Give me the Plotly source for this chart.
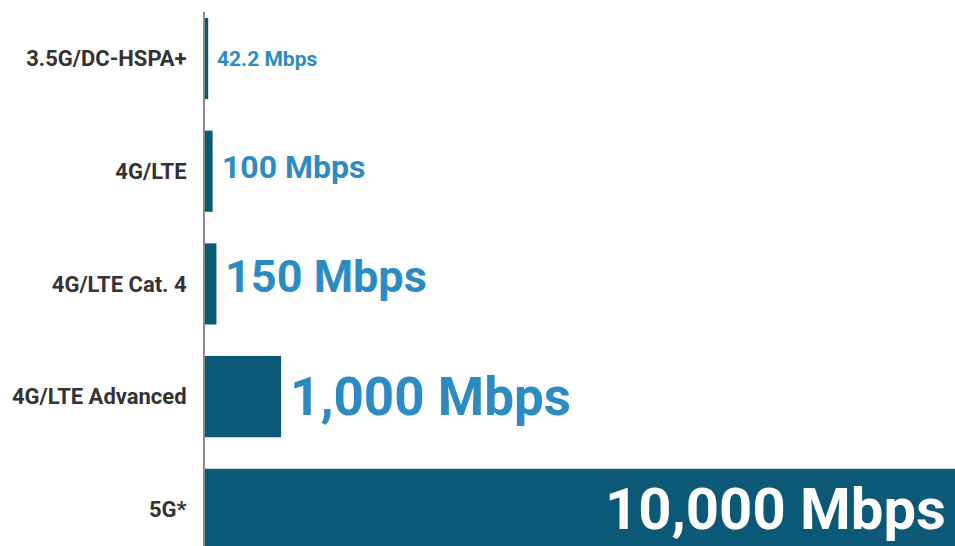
import plotly.graph_objects as go

# data
categories = ["3.5G/DC-HSPA+", "4G/LTE", "4G/LTE Cat. 4", "4G/LTE Advanced", "5G*"]
speeds = [42.2, 100, 150, 1000, 10000]
speed_labels = ["42.2 Mbps", "100 Mbps", "150 Mbps", "1,000 Mbps", "10,000 Mbps"]

# label sizes grow with the value; small nudges to sit like the original
label_font_sizes = [21, 32, 45, 53, 58]
label_yshift = [0, 4, 7, 0, 0]

bar_color = "#0b5877"
label_color = "#2d8bc4"
font_stack = "Roboto, sans-serif"

fig = go.Figure()
fig.add_trace(go.Bar(x=speeds,
                     y=categories,
                     orientation="h",
                     width=0.72,
                     marker=dict(color=bar_color, line=dict(width=0)),
                     hoverinfo="skip"))

annotations = []
for i, (cat, val, txt) in enumerate(zip(categories, speeds, speed_labels)):
    last = i == len(categories) - 1
    if last:
        # the 5G bar runs off the right edge, so its label hugs the edge
        pos = dict(x=1, xref="paper", xanchor="right", xshift=-7)
    else:
        pos = dict(x=val, xref="x", xanchor="left", xshift=7)
    annotations.append(dict(
        y=cat, yref="y",
        text="<b>%s</b>" % txt,
        showarrow=False,
        yanchor="middle",
        yshift=label_yshift[i],
        font=dict(family=font_stack,
                  size=label_font_sizes[i],
                  color="white" if last else label_color),
        **pos
    ))

fig.update_layout(
    width=955,
    height=546,
    margin=dict(l=205, r=0, t=12, b=0, autoexpand=False),
    paper_bgcolor="white",
    plot_bgcolor="white",
    showlegend=False,
    annotations=annotations,
    font=dict(family=font_stack, color="#333333"),
)

fig.update_xaxes(range=[0, 9855],
                 visible=False,
                 showgrid=False,
                 zeroline=False)

fig.update_yaxes(range=[4.326, -0.413],
                 automargin=False,
                 showgrid=False,
                 zeroline=False,
                 showline=True,
                 linecolor="#8a8a8a",
                 linewidth=2,
                 ticks="",
                 ticklabelstandoff=12,
                 tickfont=dict(family=font_stack, size=22, color="#333333"),
                 tickvals=categories,
                 ticktext=["<b>%s</b>" % c for c in categories])

# the page body has a default 8px margin; drop it so the figure sits at 0,0
fig.write_html("out.html",
               config={"displayModeBar": False},
               post_script="document.body.style.margin='0';")
